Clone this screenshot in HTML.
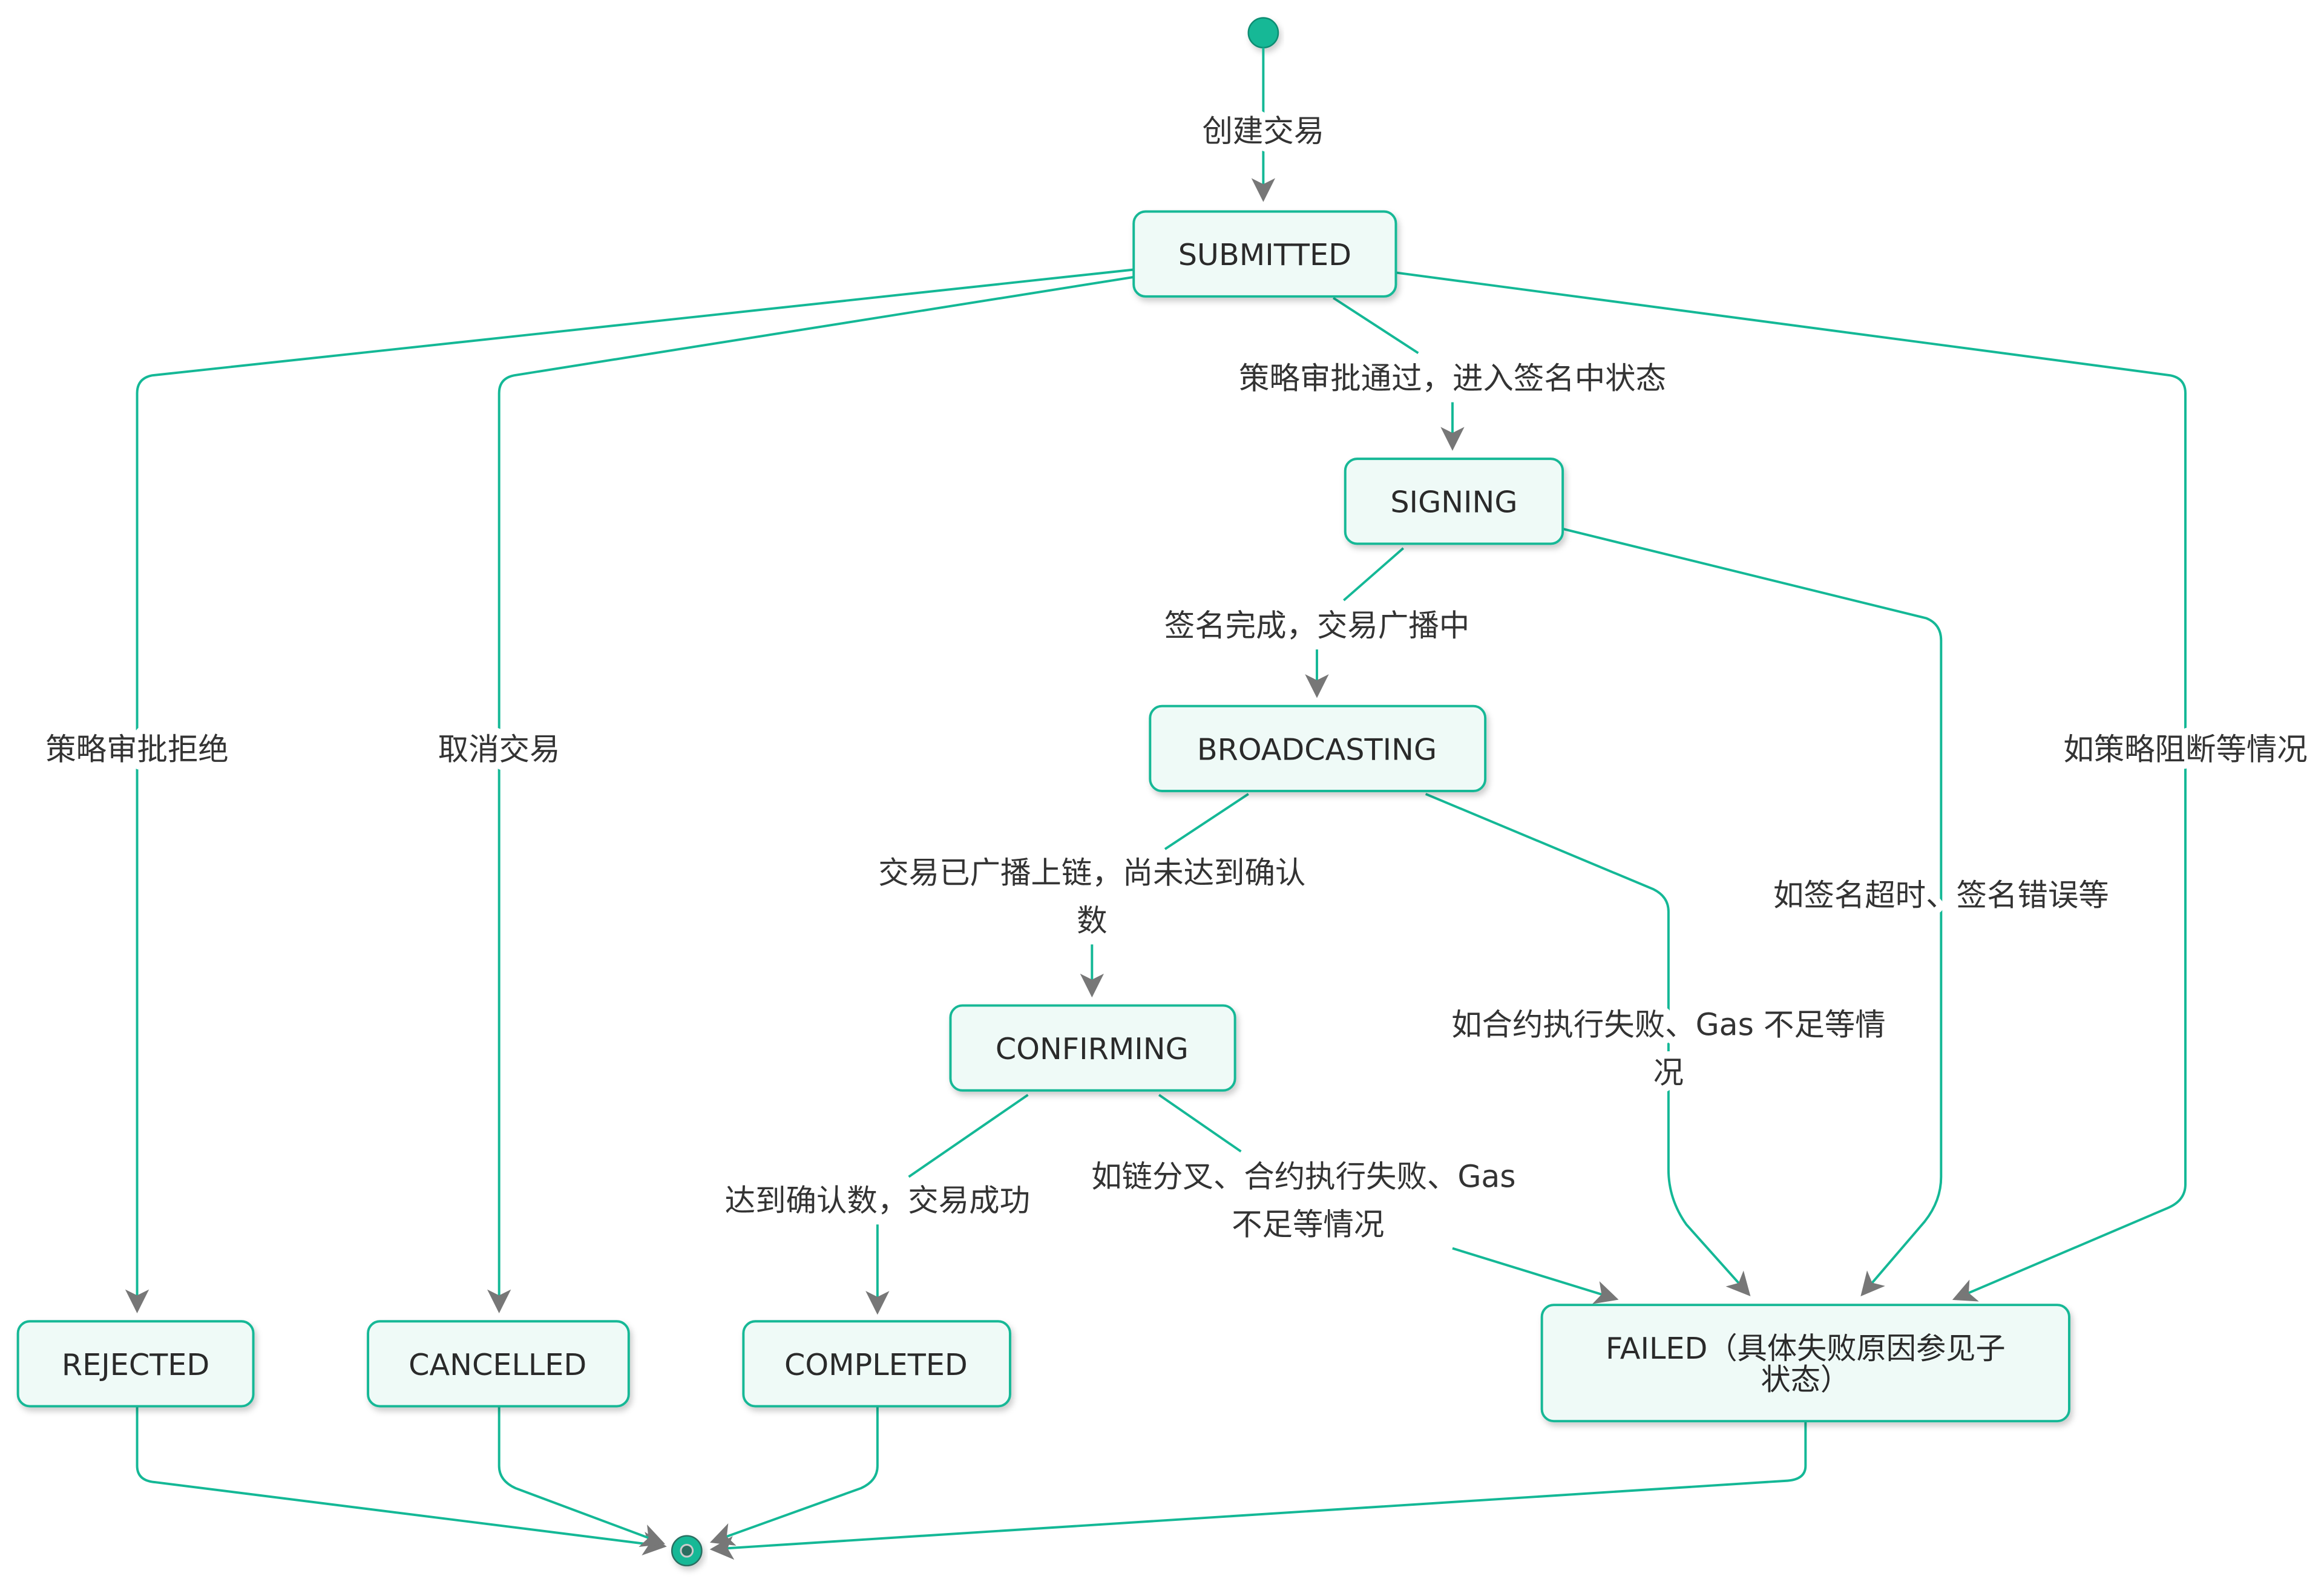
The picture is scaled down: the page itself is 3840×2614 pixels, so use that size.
<!DOCTYPE html>
<html><head><meta charset="utf-8"><style>
html,body{margin:0;padding:0;background:#fff;}
svg{display:block;}
text{font-family:"DejaVu Sans","Liberation Sans","Noto Sans CJK SC",sans-serif;fill:#333;}
.lbl{font-size:20.5px;text-anchor:middle;stroke:#fff;stroke-width:10px;paint-order:stroke;stroke-linejoin:round;}
.nt{font-size:20px;text-anchor:middle;fill:#2a2a2a;}
.e{fill:none;stroke:#14b896;stroke-width:1.6;}
.n{fill:#effaf7;stroke:#14b896;stroke-width:1.6;filter:url(#sh);}
</style></head><body>
<svg width="3840" height="2614" viewBox="0 0 1560 1062" xmlns="http://www.w3.org/2000/svg">
<defs>
<filter id="sh" x="-20%" y="-20%" width="140%" height="160%"><feDropShadow dx="1.5" dy="2.5" stdDeviation="2" flood-color="#000" flood-opacity="0.2"/></filter>
<marker id="a" viewBox="0 0 20 20" refX="18" refY="10" markerWidth="16" markerHeight="16" markerUnits="userSpaceOnUse" orient="auto">
<path d="M0,0 L20,10 L0,20 L5,10 Z" fill="#777"/></marker>
</defs>
<circle cx="848" cy="22" r="10" fill="#14b896" stroke="#0e8c72" stroke-width="1" filter="url(#sh)"/>
<path class="e" d="M848,32 L848,134" marker-end="url(#a)"/>
<path class="e" d="M895,200 L952,237"/><path class="e" d="M975,270 L975,301" marker-end="url(#a)"/>
<path class="e" d="M942,368 L902,403"/><path class="e" d="M884,436 L884,467" marker-end="url(#a)"/>
<path class="e" d="M838,533 L782,570"/><path class="e" d="M733,634 L733,668" marker-end="url(#a)"/>
<path class="e" d="M690,735 L610,790"/><path class="e" d="M589,822 L589,881" marker-end="url(#a)"/>
<path class="e" d="M778,735 L833,773"/><path class="e" d="M975,838 L1085,872" marker-end="url(#a)"/>
<path class="e" d="M761,181 L102,252 Q92,254 92,264 L92,880" marker-end="url(#a)"/>
<path class="e" d="M761,186 L345,252 Q335,254 335,264 L335,880" marker-end="url(#a)"/>
<path class="e" d="M937,183 L1457,252 Q1467,254 1467,264 L1467,795 Q1467,806 1455,811 L1312,872" marker-end="url(#a)"/>
<path class="e" d="M1049,355 L1293,415 Q1303,419 1303,430 L1303,790 Q1303,806 1292,820 L1250,869" marker-end="url(#a)"/>
<path class="e" d="M957,533 L1110,597 Q1120,602 1120,612 L1120,785 Q1120,805 1132,822 L1174,869" marker-end="url(#a)"/>
<path class="e" d="M92,944 L92,984 Q92,994 104,995 L446,1038" marker-end="url(#a)"/>
<path class="e" d="M335,944 L335,984 Q335,994 346,999 L445,1036" marker-end="url(#a)"/>
<path class="e" d="M589,944 L589,984 Q589,994 578,999 L478,1035" marker-end="url(#a)"/>
<path class="e" d="M1212,954 L1212,984 Q1212,993 1200,994 L478,1040" marker-end="url(#a)"/>
<text class="lbl" x="848" y="95">创建交易</text>
<text class="lbl" x="975" y="261">策略审批通过，进入签名中状态</text>
<text class="lbl" x="884" y="427">签名完成，交易广播中</text>
<text class="lbl" x="733" y="593">交易已广播上链，尚未达到确认</text>
<text class="lbl" x="733" y="625">数</text>
<text class="lbl" x="589" y="813">达到确认数，交易成功</text>
<text class="lbl" x="875" y="797">如链分叉、合约执行失败、Gas</text>
<text class="lbl" x="878" y="829">不足等情况</text>
<text class="lbl" x="92" y="510">策略审批拒绝</text>
<text class="lbl" x="335" y="510">取消交易</text>
<text class="lbl" x="1467" y="510">如策略阻断等情况</text>
<text class="lbl" x="1303" y="608">如签名超时、签名错误等</text>
<text class="lbl" x="1120" y="695">如合约执行失败、Gas 不足等情</text>
<text class="lbl" x="1120" y="727">况</text>
<rect class="n" x="761" y="142" width="176" height="57" rx="8"/><text class="nt" x="849" y="178">SUBMITTED</text>
<rect class="n" x="903" y="308" width="146" height="57" rx="8"/><text class="nt" x="976" y="344">SIGNING</text>
<rect class="n" x="772" y="474" width="225" height="57" rx="8"/><text class="nt" x="884" y="510">BROADCASTING</text>
<rect class="n" x="638" y="675" width="191" height="57" rx="8"/><text class="nt" x="733" y="711">CONFIRMING</text>
<rect class="n" x="12" y="887" width="158" height="57" rx="8"/><text class="nt" x="91" y="923">REJECTED</text>
<rect class="n" x="247" y="887" width="175" height="57" rx="8"/><text class="nt" x="334" y="923">CANCELLED</text>
<rect class="n" x="499" y="887" width="179" height="57" rx="8"/><text class="nt" x="588" y="923">COMPLETED</text>
<rect class="n" x="1035" y="876" width="354" height="78" rx="8"/>
<text class="nt" x="1212" y="912">FAILED（具体失败原因参见子</text>
<text class="nt" x="1212" y="933">状态）</text>
<circle cx="461" cy="1041" r="10" fill="#14b896" stroke="#2a6e60" stroke-width="1" filter="url(#sh)"/>
<circle cx="461" cy="1041" r="4" fill="#2a6e60" stroke="#ccc" stroke-width="1.2"/>
</svg>
</body></html>
